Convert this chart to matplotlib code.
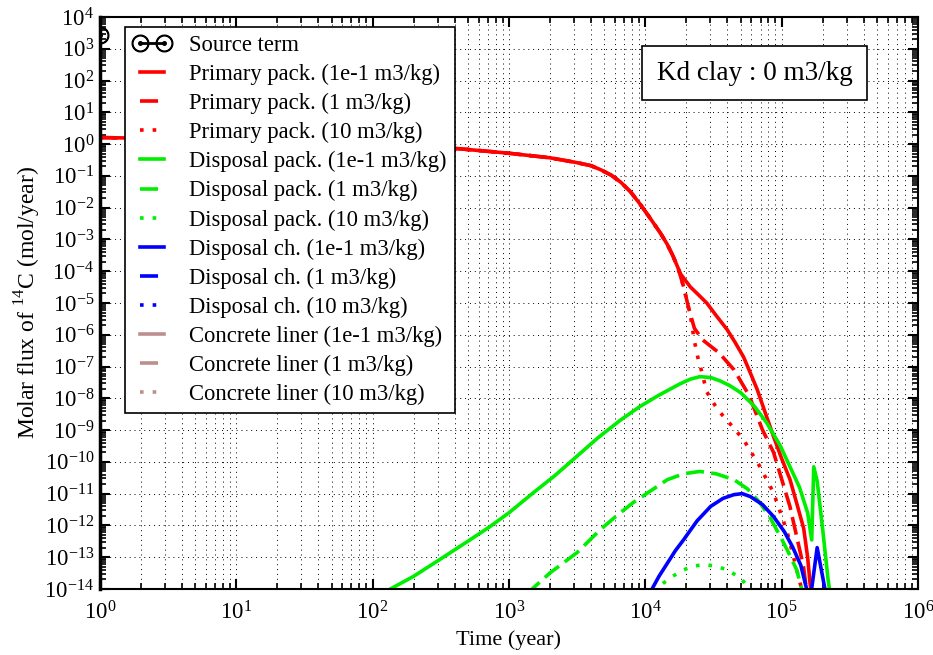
import matplotlib
matplotlib.use('Agg')
import matplotlib.pyplot as plt
from matplotlib.ticker import LogLocator, NullFormatter

plt.rcParams['font.family'] = ['Liberation Serif', 'DejaVu Serif']
plt.rcParams['mathtext.fontset'] = 'custom'
plt.rcParams['mathtext.rm'] = 'Liberation Serif'

# ---- data (time in years, molar flux in mol/year) ----
src_t = [1.0]
src_f = [2.7e3]

# common early part of the primary package curves
prim_t0 = [1, 3, 10, 30, 100, 437, 977, 2000, 3160, 3981, 4677, 5623, 6607, 7762, 9120,
           10720, 12880, 14450, 15850, 17380]
prim_f0 = [1.6, 1.5, 1.4, 1.2, 1.0, 0.71, 0.52, 0.37, 0.26, 0.21, 0.158, 0.105, 0.063, 0.032, 0.0132,
           5.0e-3, 1.6e-3, 7.1e-4, 3.2e-4, 1.26e-4]

prim1_t = prim_t0 + [18200, 21380, 24550, 28200, 33110, 39800, 45710, 52500, 58880, 66100, 77600,
                     87100, 100000, 115000, 128800, 145000, 154900, 162000, 170000]
prim1_f = prim_f0 + [8.0e-5, 3.2e-5, 1.8e-5, 1.0e-5, 4.0e-6, 1.45e-6, 5.6e-7, 2.0e-7, 6.3e-8, 1.9e-8, 2.6e-9,
                     6.3e-10, 1.26e-10, 2.8e-11, 5e-12, 8e-13, 1e-13, 1.3e-14, 5e-15]

prim2_t = prim_t0 + [19100, 20900, 22900, 26300, 34700, 44700, 57500, 72400, 87100, 114800, 144500, 154900]
prim2_f = prim_f0 + [3.2e-5, 6.3e-6, 1.6e-6, 6.9e-7, 2.7e-7, 7.9e-8, 1.26e-8, 1.0e-9, 2.0e-10, 4e-12, 5e-14, 5e-15]

prim3_t = prim_t0 + [19100, 21400, 22900, 24500, 25700, 28200, 33900, 41700, 52500, 69200, 87100,
                     109600, 138000, 144500]
prim3_f = prim_f0 + [3.2e-5, 4e-6, 6.3e-7, 1.6e-7, 7.9e-8, 1.6e-8, 4.4e-9, 1.6e-9, 5e-10, 7.1e-11, 1.07e-11,
                     6.3e-13, 1.26e-14, 5e-15]

disp1_t = [125, 135, 200, 309, 501, 724, 1000, 1510, 2138, 2950, 4467, 6610, 9120, 12600, 17800,
           21380, 25100, 30200, 35500, 41690, 50100, 63100, 77600, 97700, 114800, 134900, 154900,
           166000, 171800, 182000, 199500, 218800, 229100]
disp1_f = [7e-15, 1.0e-14, 2.5e-14, 8.3e-14, 3.2e-13, 9.1e-13, 2.5e-12, 1.07e-11, 3.5e-11, 1.17e-10, 5.6e-10,
           2.1e-9, 5.5e-9, 1.26e-8, 2.8e-8, 4.0e-8, 4.8e-8, 4.5e-8, 3.5e-8, 2.5e-8, 1.5e-8, 5.6e-9, 1.7e-9,
           3.2e-10, 7.1e-11, 1.6e-11, 2.5e-12, 3.5e-13, 7.0e-11, 2.5e-11, 7.9e-13, 2e-14, 5e-15]

disp2_t = [1380, 1480, 2000, 3160, 4680, 6310, 8130, 10200, 14500, 19050, 25100, 33110, 44700, 56230,
           69200, 83180, 97700, 112200, 128800, 144500]
disp2_f = [6e-15, 1e-14, 3.2e-14, 1.4e-13, 7.4e-13, 2.2e-12, 5.2e-12, 1.0e-11, 2.75e-11, 4.2e-11, 5.0e-11,
           4.2e-11, 2.75e-11, 1.4e-11, 5.2e-12, 1.6e-12, 4.5e-13, 1.4e-13, 4e-14, 6e-15]

disp3_t = [11500, 13180, 15850, 19100, 22390, 26900, 33110, 39800, 50100, 60300]
disp3_f = [8e-15, 1.4e-14, 2.5e-14, 4e-14, 5.2e-14, 5.9e-14, 5.2e-14, 4e-14, 2.2e-14, 8e-15]

ch1_t = [10700, 12590, 14450, 16600, 19050, 23990, 30200, 37150, 44670, 51290, 58880, 72440, 87100,
         104700, 120200, 138000, 158500, 162200, 182000, 213800]
ch1_f = [7e-15, 2.5e-14, 6.3e-14, 1.6e-13, 3.5e-13, 1.4e-12, 4.0e-12, 7.1e-12, 9.3e-12, 1.0e-11, 8.1e-12,
         4.5e-12, 1.9e-12, 6.3e-13, 2.1e-13, 5.6e-14, 5e-15, 5e-15, 2.0e-13, 5e-15]

labels = ['Source term',
          'Primary pack. (1e-1 m3/kg)', 'Primary pack. (1 m3/kg)', 'Primary pack. (10 m3/kg)',
          'Disposal pack. (1e-1 m3/kg)', 'Disposal pack. (1 m3/kg)', 'Disposal pack. (10 m3/kg)',
          'Disposal ch. (1e-1 m3/kg)', 'Disposal ch. (1 m3/kg)', 'Disposal ch. (10 m3/kg)',
          'Concrete liner (1e-1 m3/kg)', 'Concrete liner (1 m3/kg)', 'Concrete liner (10 m3/kg)']

# ---------------------------------------------------------------------------
fig = plt.figure(figsize=(9.33, 6.55), dpi=100)
ax = fig.add_axes([0.107, 0.1008, 0.877, 0.8733])

lw = 2.6
dash = (5, 2)
dot = (1, 2.5)
brown = '#bc8f8f'
green = '#00ee00'

ax.plot(src_t, src_f, color='black', lw=2, marker=r'$\odot$', ms=12, label=labels[0])

ax.plot(prim1_t, prim1_f, color='red', lw=lw, label=labels[1])
ax.plot(prim2_t, prim2_f, color='red', lw=lw, dashes=dash, label=labels[2])
ax.plot(prim3_t, prim3_f, color='red', lw=lw, dashes=dot, label=labels[3])

ax.plot(disp1_t, disp1_f, color=green, lw=lw, label=labels[4])
ax.plot(disp2_t, disp2_f, color=green, lw=lw, dashes=dash, label=labels[5])
ax.plot(disp3_t, disp3_f, color=green, lw=lw, dashes=dot, label=labels[6])

ax.plot(ch1_t, ch1_f, color='blue', lw=lw, label=labels[7])
ax.plot([], [], color='blue', lw=lw, dashes=dash, label=labels[8])
ax.plot([], [], color='blue', lw=lw, dashes=dot, label=labels[9])

ax.plot([], [], color=brown, lw=lw, label=labels[10])
ax.plot([], [], color=brown, lw=lw, dashes=dash, label=labels[11])
ax.plot([], [], color=brown, lw=lw, dashes=dot, label=labels[12])

ax.set_xscale('log')
ax.set_yscale('log')
ax.set_xlim(1, 1e6)
ax.set_ylim(1e-14, 1e4)

ax.xaxis.set_major_locator(LogLocator(base=10, numticks=100))
ax.xaxis.set_minor_locator(LogLocator(base=10, subs=range(2, 10), numticks=100))
ax.yaxis.set_major_locator(LogLocator(base=10, numticks=100))
ax.yaxis.set_minor_locator(LogLocator(base=10, subs=range(2, 10), numticks=100))
ax.xaxis.set_minor_formatter(NullFormatter())
ax.yaxis.set_minor_formatter(NullFormatter())

ax.tick_params(which='both', direction='in', top=True, right=True, labelsize=16.5)
ax.tick_params(which='major', length=7, width=1.5)
ax.tick_params(which='minor', length=4, width=1.2)
ax.tick_params(axis='y', which='major', pad=4)
ax.tick_params(axis='x', which='major', pad=9)
for s in ax.spines.values():
    s.set_linewidth(1.5)
ax.spines['left'].set_linewidth(2.5)

ax.grid(True, axis='x', which='both', color='black', lw=0.7, linestyle=(0, (1, 4)))
ax.grid(True, axis='y', which='major', color='black', lw=0.7, linestyle=(0, (1, 4)))

ax.set_xlabel('Time (year)', fontsize=16)
ax.set_ylabel(r'Molar flux of $^{14}$C (mol/year)', fontsize=17, labelpad=1)

leg = ax.legend(loc='upper left', bbox_to_anchor=(0.0306, 0.9825), borderaxespad=0,
                fontsize=16.3, labelspacing=0.35, handlelength=1.7, handletextpad=0.8,
                numpoints=2, fancybox=False, framealpha=1, edgecolor='black',
                borderpad=0.35)
leg.get_frame().set_linewidth(1.2)

ax.text(0.80, 0.902, 'Kd clay : 0 m3/kg', transform=ax.transAxes, fontsize=19.5,
        ha='center', va='center',
        bbox=dict(boxstyle='square,pad=0.55', facecolor='white', edgecolor='black', lw=1.2))

plt.savefig('out.png', dpi=100)
